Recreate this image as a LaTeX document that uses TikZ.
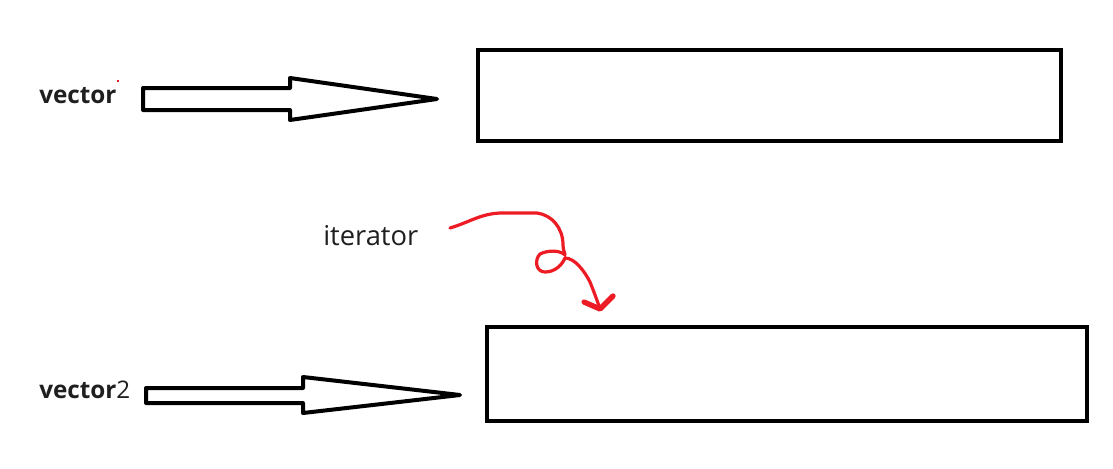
\documentclass[tikz,border=0pt]{standalone}
\usepackage{fontspec}
\setmainfont{Open Sans}
\definecolor{paintred}{RGB}{237,28,36}
\begin{document}
\begin{tikzpicture}[x=0.75pt,y=-0.75pt,
  box/.style={draw=black,line width=3pt,minimum width=583*0.75pt,minimum height=91*0.75pt,inner sep=0pt,anchor=north west},
  blockarrow/.style={draw=black,line width=3pt,line join=round,fill=white},
  lbl/.style={inner sep=0pt,anchor=base west,text=black!88,font=\fontsize{18.2pt}{21pt}\selectfont},
  redline/.style={draw=paintred,line width=2.4pt,line cap=round,line join=round}
]
\useasboundingbox (0,0) rectangle (1113,468);
% boxes
\node[box] (top) at (476,48) {};
\node[box,minimum width=600*0.75pt,minimum height=94*0.75pt] (bot) at (485,325) {};
% labels
\node[lbl] (v1) at (39,103) {\textbf{vector}};
\node[lbl] (v2) at (39,398) {\textbf{vector}2};
\node[lbl,font=\fontsize{20.5pt}{24pt}\selectfont] (it) at (323,245) {iterator};
% block arrows
\draw[blockarrow] (143,88) -- (290,88) -- (290,78) -- (437,99) -- (290,120) -- (290,110) -- (143,110) -- cycle;
\draw[blockarrow] (146,388) -- (303,388) -- (303,377) -- (460,395) -- (303,413) -- (303,403) -- (146,403) -- cycle;
% tiny red mark
\fill[paintred] (117.3,80) rectangle (118.7,81.5);
% red squiggle
\coordinate (s) at (450,228);
\coordinate (tip) at (600,309);
\draw[redline] (s) .. controls (470,222) and (480,214) .. (500,213)
  -- (537,213)
  .. controls (552,215) and (563,228) .. (563,245)
  .. controls (563,250) and (565,253) .. (565,255)
  .. controls (560,250) and (548,250) .. (540,254)
  .. controls (534,260) and (536,272) .. (545,272)
  .. controls (555,272) and (562,265) .. (565,258)
  .. controls (575,258) and (585,272) .. (590,282)
  .. controls (594,292) and (597,300) .. (tip);
\draw[redline,line width=4pt] (584,302) -- (tip) -- (613,296);
\end{tikzpicture}
\end{document}
